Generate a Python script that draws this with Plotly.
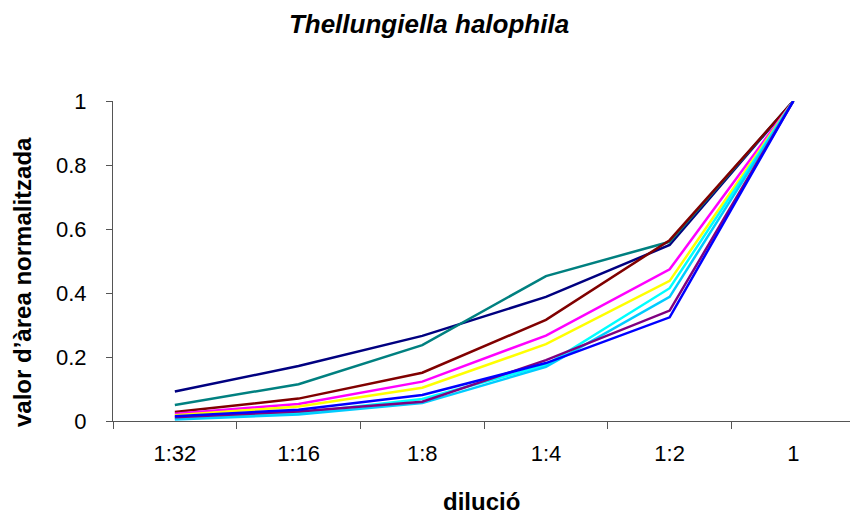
import plotly.graph_objects as go

# Dilution categories (x axis)
dilutions = ["1:32", "1:16", "1:8", "1:4", "1:2", "1"]

# Normalised peak area per series at each dilution
s_navy    = [0.092, 0.172, 0.266, 0.388, 0.550, 1.0]
s_teal    = [0.050, 0.115, 0.237, 0.453, 0.560, 1.0]
s_maroon  = [0.028, 0.070, 0.151, 0.316, 0.565, 1.0]
s_magenta = [0.023, 0.053, 0.123, 0.267, 0.474, 1.0]
s_yellow  = [0.018, 0.045, 0.104, 0.240, 0.438, 1.0]
s_cyan    = [0.008, 0.025, 0.069, 0.175, 0.415, 1.0]
s_sky     = [0.005, 0.020, 0.056, 0.169, 0.388, 1.0]
s_purple  = [0.012, 0.030, 0.060, 0.190, 0.345, 1.0]
s_blue    = [0.015, 0.035, 0.081, 0.181, 0.324, 1.0]

series = [
    (s_navy, "#000080"),
    (s_teal, "#008080"),
    (s_maroon, "#800000"),
    (s_magenta, "#FF00FF"),
    (s_yellow, "#FFFF00"),
    (s_cyan, "#00FFFF"),
    (s_sky, "#00CCFF"),
    (s_purple, "#800080"),
    (s_blue, "#0000FF"),
]

fig = go.Figure()
for vals, col in series:
    fig.add_trace(go.Scatter(x=dilutions, y=vals, mode="lines",
                             line=dict(color=col, width=2.5),
                             showlegend=False, hoverinfo="skip"))

font = "Liberation Sans, Arial, sans-serif"
fig.update_layout(
    width=850, height=517,
    margin=dict(l=113, r=0, t=101, b=96),
    paper_bgcolor="white", plot_bgcolor="white",
    title=dict(text="<b><i>Thellungiella halophila</i></b>",
               x=429 / 850, xref="container", xanchor="center",
               y=1 - 24 / 517, yref="container", yanchor="middle",
               font=dict(family=font, size=26, color="black")),
    font=dict(family=font, color="black"),
    xaxis=dict(type="category", range=[-0.5, 5.458],
               showline=True, linecolor="#555", linewidth=1,
               ticks="outside", tickson="boundaries", ticklen=7,
               tickcolor="#555", showgrid=False, zeroline=False,
               tickfont=dict(size=22), ticklabelstandoff=13),
    yaxis=dict(range=[0, 1], tickvals=[0, 0.2, 0.4, 0.6, 0.8, 1],
               ticktext=["0", "0.2", "0.4", "0.6", "0.8", "1"],
               showline=True, linecolor="#555", linewidth=1,
               ticks="outside", ticklen=6, tickcolor="#555",
               showgrid=False, zeroline=False,
               tickfont=dict(size=22), ticklabelstandoff=15),
    annotations=[
        dict(text="<b>valor d’àrea normalitzada</b>", textangle=-90,
             xref="paper", yref="paper", x=-91 / 737, y=(421 - 282) / 320,
             showarrow=False, font=dict(size=24),
             xanchor="center", yanchor="middle"),
        dict(text="<b>dilució</b>",
             xref="paper", yref="paper", x=(481 - 113) / 737, y=(421 - 501) / 320,
             showarrow=False, font=dict(size=24),
             xanchor="center", yanchor="middle"),
    ],
)

fig.write_html("out.html")
